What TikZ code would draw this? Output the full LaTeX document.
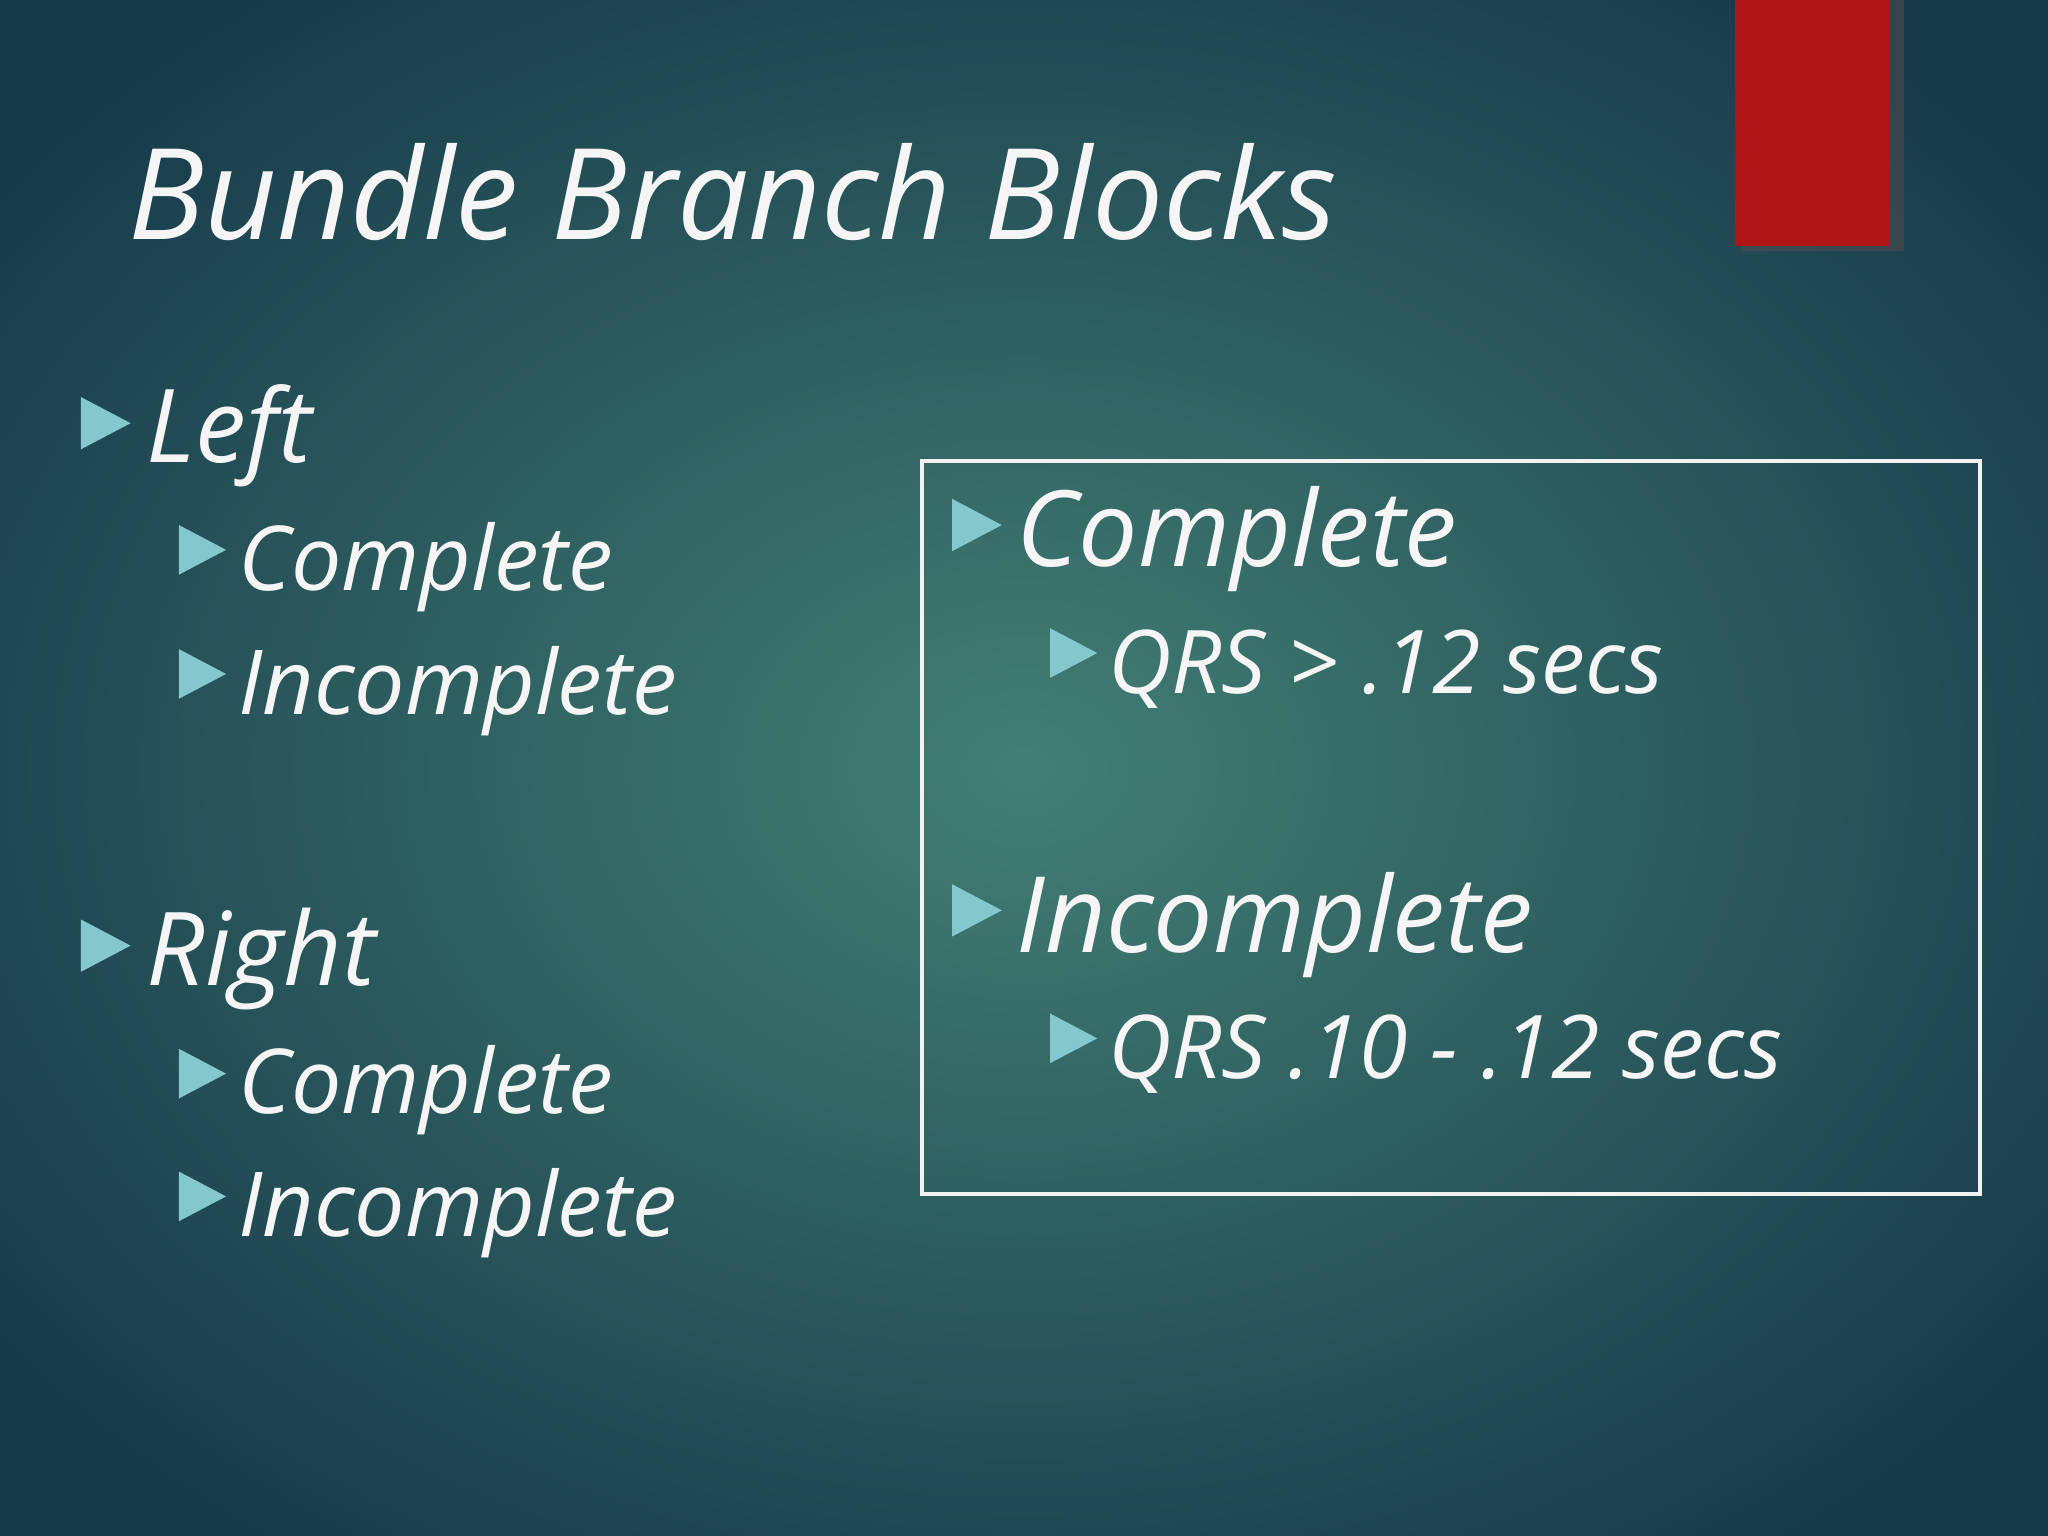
\documentclass[tikz,border=0pt]{standalone}
\usepackage{fontspec}
\setmainfont{Open Sans}
\usetikzlibrary{shadows}
\definecolor{bgin}{HTML}{427F74}
\definecolor{bgout}{HTML}{173A4A}
\definecolor{bul}{HTML}{84C8CD}
\definecolor{redbar}{HTML}{B01518}
\newcommand{\bulx}[3]{\fill[bul] (#1,#2-#3/2) -- (#1+#3*0.95,#2) -- (#1,#2+#3/2) -- cycle;}
\tikzset{txt/.style={text=white!92!gray,anchor=west,inner sep=0pt,font=\itshape}}
\begin{document}
\begin{tikzpicture}[x=0.013061cm,y=-0.013061cm]
\useasboundingbox (0,0) rectangle (1568,1176);
\shade[inner color=bgin,outer color=bgout] (-200,-150) rectangle (1768,1326);
\clip (0,0) rectangle (1568,1176);
\fill[black!70,opacity=0.6] (1333,0) rectangle (1458,192);
\fill[redbar] (1328,0) rectangle (1446,188);
\node[txt,font=\itshape\fontsize{36}{44}\selectfont] (title) at (98,147) {Bundle Branch Blocks};
% left list
\bulx{62}{324}{40}
\node[txt,font=\itshape\fontsize{29}{36}\selectfont] (left) at (112,334) {Left};
\bulx{137}{421}{38}
\node[txt,font=\itshape\fontsize{25.5}{32}\selectfont] (lc) at (182,434) {Complete};
\bulx{137}{516}{38}
\node[txt,font=\itshape\fontsize{25.5}{32}\selectfont] (li) at (182,529) {Incomplete};
\bulx{62}{724}{40}
\node[txt,font=\itshape\fontsize{29}{36}\selectfont] (right) at (112,734) {Right};
\bulx{137}{822}{38}
\node[txt,font=\itshape\fontsize{25.5}{32}\selectfont] (rc) at (182,835) {Complete};
\bulx{137}{916}{38}
\node[txt,font=\itshape\fontsize{25.5}{32}\selectfont] (ri) at (182,929) {Incomplete};
% box
\draw[white!90!gray,line width=1pt] (706,353) rectangle (1516,914);
\bulx{729}{402}{40}
\node[txt,font=\itshape\fontsize{30}{36}\selectfont] (bc) at (778,413) {Complete};
\bulx{804}{500}{38}
\node[txt,font=\itshape\fontsize{25}{32}\selectfont] (q1) at (848,512) {QRS > .12 secs};
\bulx{729}{697}{40}
\node[txt,font=\itshape\fontsize{30}{36}\selectfont] (bi) at (778,708) {Incomplete};
\bulx{804}{795}{38}
\node[txt,font=\itshape\fontsize{25}{32}\selectfont] (q2) at (848,807) {QRS .10 - .12 secs};
\end{tikzpicture}
\end{document}
